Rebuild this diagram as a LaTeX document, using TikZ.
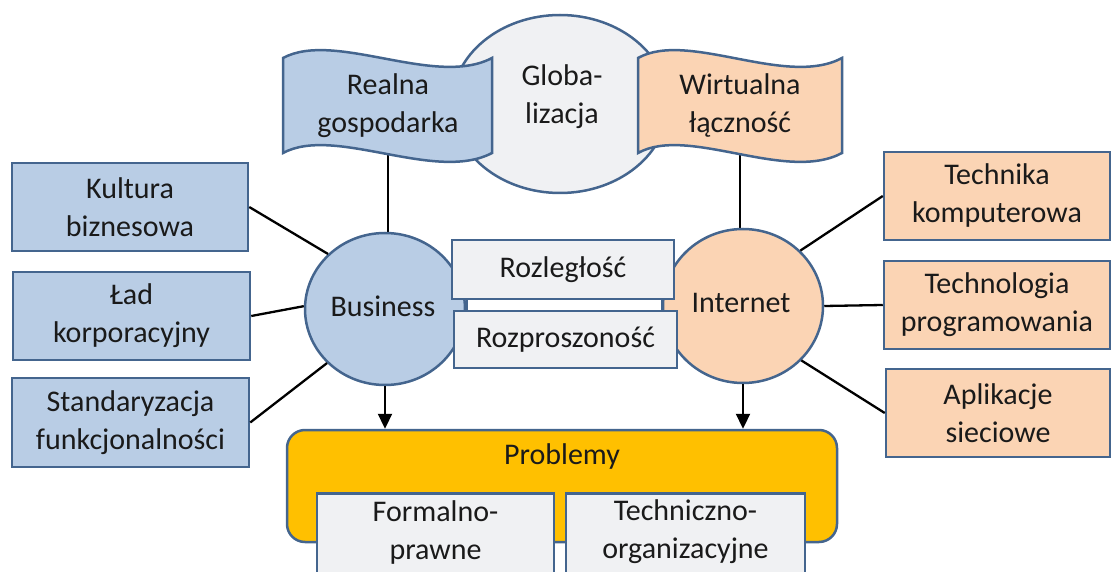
\documentclass[tikz,border=0pt]{standalone}
\usepackage{fontspec}
\setmainfont{Carlito}
\usetikzlibrary{arrows.meta,shapes.geometric}
\definecolor{bfill}{HTML}{B9CDE5}
\definecolor{ofill}{HTML}{FBD4B4}
\definecolor{gfill}{HTML}{F0F1F3}
\definecolor{yfill}{HTML}{FFC000}
\definecolor{bord}{HTML}{44658E}
\definecolor{txt}{HTML}{1A1A1A}
\pgfdeclarelayer{bg}
\pgfsetlayers{bg,main}
\begin{document}
\begin{tikzpicture}[x=1pt,y=-1pt,
  font=\fontsize{30}{38}\selectfont, text=txt,
  box/.style={draw=bord, line width=2.5pt, align=center, inner sep=0pt},
  txtnode/.style={align=center, inner sep=0pt},
  conn/.style={line width=2.3pt, draw=black},
  arr/.style={conn, -{Triangle[width=14pt,length=15pt]}}]
\clip (0,0) rectangle (1112,572);
% globalisation ellipse
\node[box, ellipse, fill=gfill, minimum width=216pt, minimum height=178pt] (globa) at (560,104) {};
% flags
\draw[draw=bord, line width=2.5pt, fill=bfill] (283,58) .. controls (335,30) and (435,88) .. (492,58) -- (492,153) .. controls (435,183) and (335,125) .. (283,153) -- cycle;
\draw[draw=bord, line width=2.5pt, fill=ofill] (638,58) .. controls (688,30) and (786,88) .. (842,58) -- (842,153) .. controls (786,183) and (688,125) .. (638,153) -- cycle;
\node[txtnode, minimum height=97pt] (realna) at (388,106) {Realna\\gospodarka};
\node[txtnode, minimum height=97pt] (wirt) at (740,106) {Wirtualna\\łączność};
\node[txtnode] (globat) at (562,97) {Globa-\\lizacja};
% side boxes
\node[box, fill=bfill, minimum width=236pt, minimum height=88pt] (kult) at (130,207) {Kultura\\biznesowa};
\node[box, fill=bfill, minimum width=237pt, minimum height=88pt] (lad) at (131.5,316) {Ład\\korporacyjny};
\node[box, fill=bfill, minimum width=237pt, minimum height=89pt] (stand) at (130.5,422.5) {Standaryzacja\\funkcjonalności};
\node[box, fill=ofill, minimum width=226pt, minimum height=88pt] (tech) at (997,196) {Technika\\komputerowa};
\node[box, fill=ofill, minimum width=226pt, minimum height=88pt] (techn) at (997,305) {Technologia\\programowania};
\node[box, fill=ofill, minimum width=224pt, minimum height=88pt] (apl) at (998,413) {Aplikacje\\sieciowe};
% circles
\node[box, ellipse, fill=bfill, minimum width=160pt, minimum height=152pt] (bus) at (385,309) {};
\node[box, ellipse, fill=ofill, minimum width=160pt, minimum height=154pt] (inet) at (743,306) {};
\node[txtnode] (bust) at (383,306) {Business};
\node[txtnode] (inett) at (741,303) {Internet};
% band and middle boxes
\node[draw=bord, line width=2pt, fill=white, minimum width=195pt, minimum height=40pt, inner sep=0pt] (band) at (564.5,305) {};
\node[box, fill=gfill, minimum width=222pt, minimum height=59pt] (rozl) at (563,269.5) {Rozległość};
\node[box, fill=gfill, minimum width=223pt, minimum height=57pt] (rozp) at (565.5,339.5) {Rozproszoność};
% problems
\node[box, fill=yfill, rounded corners=18pt, minimum width=550pt, minimum height=112pt] (probl) at (562,486) {};
\node[txtnode] (problt) at (562,457) {Problemy};
\node[box, fill=gfill, minimum width=237pt, minimum height=110pt, anchor=north] (form) at (435.5,492) {};
\node[box, fill=gfill, minimum width=239pt, minimum height=110pt, anchor=north] (techo) at (685.5,492) {};
\node[txtnode] (formt) at (435.5,532) {Formalno-\\prawne};
\node[txtnode] (techot) at (685.5,532) {Techniczno-\\organizacyjne};
% connectors
\begin{pgfonlayer}{bg}
\draw[conn] (realna.south) -- (realna.south |- bus.north);
\draw[conn] (wirt.south) -- (wirt.south |- inet.north);
\end{pgfonlayer}
\draw[conn] (kult.east) -- (bus.136);
\draw[conn] (lad.east) -- (bus.178);
\draw[conn] (stand.east) -- (bus.223);
\draw[conn] (inet.44) -- (tech.west);
\draw[conn] (inet.0) -- (techn.west);
\draw[conn] (inet.-43) -- (apl.west);
\draw[arr] (bus.south) -- (bus.south |- probl.north);
\draw[arr] (inet.south) -- (inet.south |- probl.north);
\end{tikzpicture}
\end{document}
